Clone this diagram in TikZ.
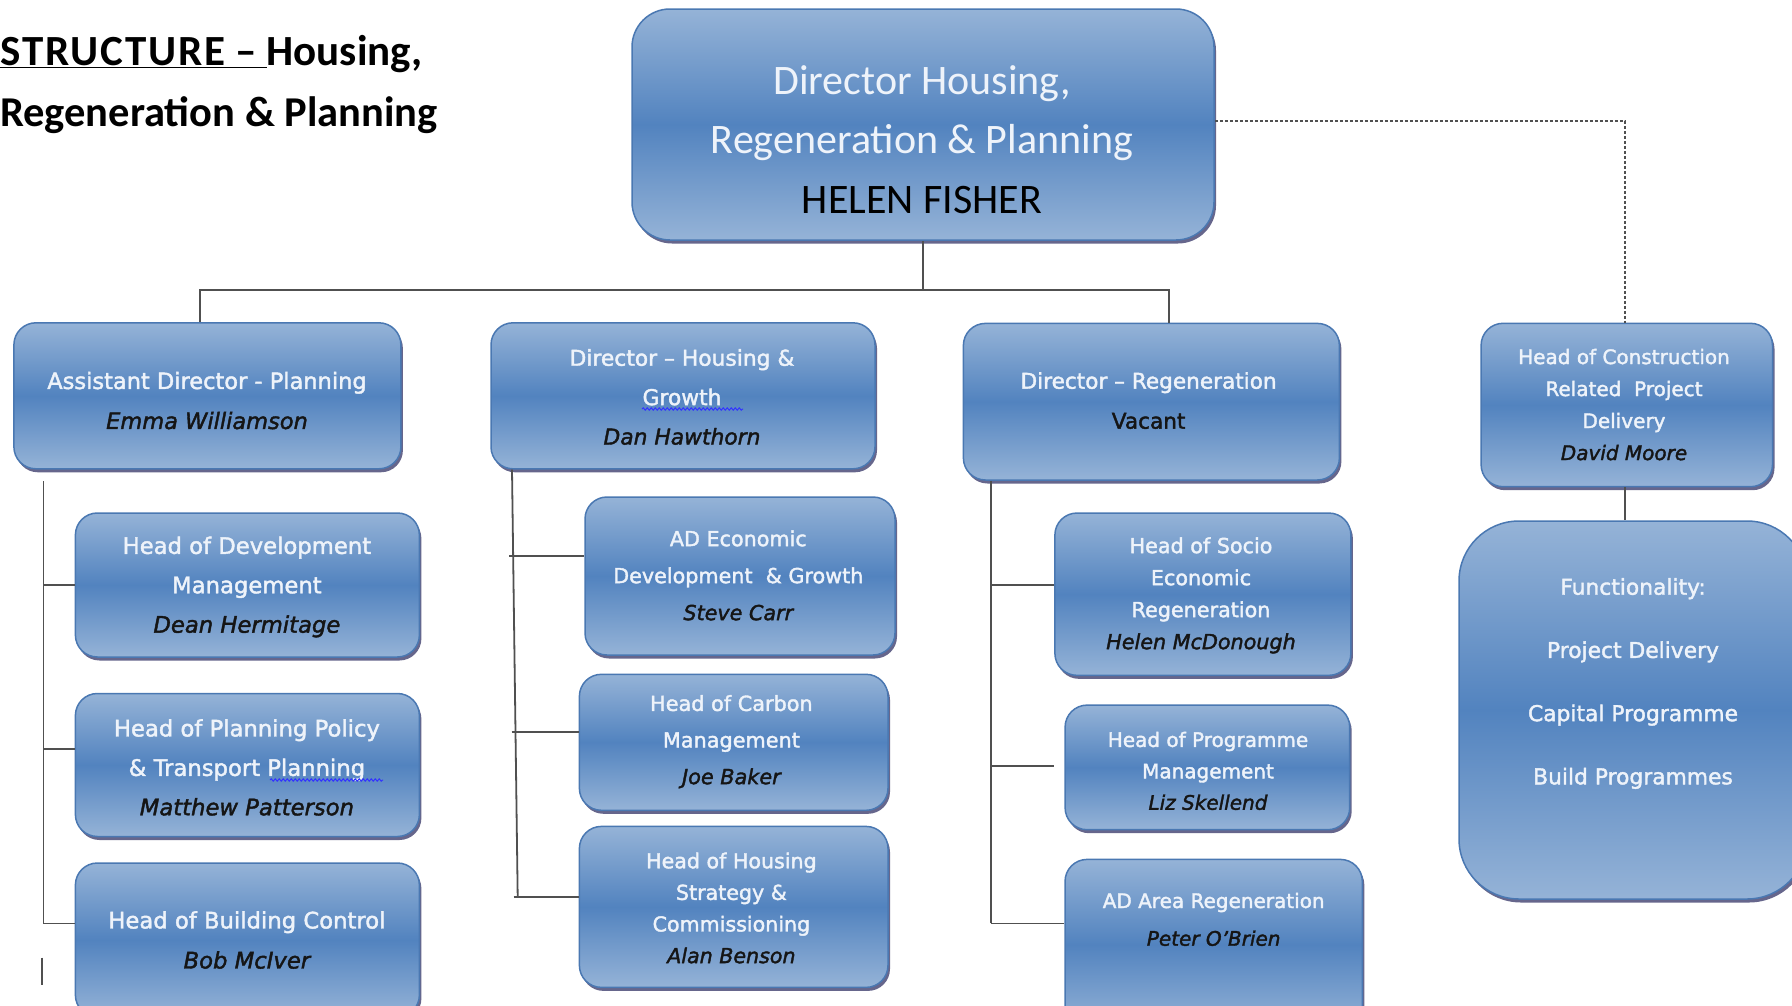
\documentclass[tikz,border=0pt]{standalone}
\usepackage{fontspec}
\setmainfont{DejaVu Sans}[FakeBold=1.8]
\newfontfamily\carlito{Carlito}
\usetikzlibrary{shadows,decorations.pathmorphing}
\definecolor{boxlight}{HTML}{95B3D7}
\definecolor{boxdark}{HTML}{5283BF}
\definecolor{boxedge}{HTML}{4A78B2}
\definecolor{boxtext}{HTML}{EEF3FA}
\definecolor{linegray}{HTML}{505050}
\definecolor{namecol}{HTML}{151515}
\newcommand\pname[1]{\textcolor{namecol}{\itshape #1}}
\tikzset{
  orgbox/.style={draw=boxedge, line width=1.5pt, rounded corners=22pt,
    top color=boxlight, bottom color=boxlight, middle color=boxdark,
    drop shadow={shadow xshift=2pt, shadow yshift=-3.5pt, opacity=0.6, fill=black!75!blue},
    inner sep=0pt},
  txt/.style={align=center, text=boxtext, inner sep=0pt},
  conn/.style={draw=linegray, line width=1.8pt},
  dashconn/.style={draw=linegray, line width=1.3pt, dash pattern=on 3pt off 2pt},
  spell/.style={draw=blue!80, line width=1pt, decorate, decoration={snake, amplitude=1.2pt, segment length=4pt}},
  titletxt/.style={anchor=base west, inner sep=0pt, font=\carlito\bfseries\fontsize{43}{60}\selectfont}
}
\begin{document}
\begin{tikzpicture}[x=1pt,y=-1pt]
\useasboundingbox (0,0) rectangle (1792,1005);
\fill[white] (0,0) rectangle (1792,1005);
\clip (0,0) rectangle (1792,1005);

% title
\node[titletxt] (title1) at (0,65) {\underline{{\addfontfeature{LetterSpace=4.5}STRUCTURE} – }Housing,};
\node[titletxt, font=\carlito\bfseries\fontsize{42.5}{60}\selectfont] (title2) at (0,126) {Regeneration \& Planning};

% top box
\node[orgbox, rounded corners=38pt, minimum width=582pt, minimum height=231pt] (T) at (923,124.5) {};
\node[txt, font=\carlito\fontsize{42}{59.4}\selectfont] (Tt) at (922,139.4)
  {Director Housing,\\Regeneration \& Planning\\\textcolor{black}{HELEN FISHER}};

% row 1
\node[orgbox, minimum width=387pt, minimum height=146pt] (B1) at (207.4,395.8) {};
\node[txt, font=\fontsize{22.5}{40}\selectfont] (B1t) at (207,400.6)
  {Assistant Director - Planning\\\pname{Emma Williamson}};

\node[orgbox, minimum width=384pt, minimum height=146pt] (B2) at (683,395.8) {};
\node[txt, font=\fontsize{21.8}{39.4}\selectfont] (B2t) at (682,397)
  {Director – Housing \&\\Growth\\\pname{Dan Hawthorn}};

\node[orgbox, minimum width=376pt, minimum height=156.6pt] (B3) at (1151.4,401.7) {};
\node[txt, font=\fontsize{21.6}{40}\selectfont] (B3t) at (1148.6,400.6)
  {Director – Regeneration\\\textcolor{namecol}{Vacant}};

\node[orgbox, minimum width=291.4pt, minimum height=163.4pt] (B4) at (1626.8,405) {};
\node[txt, font=\fontsize{20}{32}\selectfont] (B4t) at (1624,404.6)
  {Head of Construction\\Related~ Project\\Delivery\\\pname{David Moore}};

\node[orgbox, rounded corners=60pt, minimum width=348pt, minimum height=378pt] (B5) at (1633,710) {};
\node[txt, font=\fontsize{21.8}{63.2}\selectfont] (B5t) at (1633,683.5)
  {Functionality:\\Project Delivery\\Capital Programme\\Build Programmes};

% column 1
\node[orgbox, minimum width=344pt, minimum height=144pt] (C1a) at (247.4,585) {};
\node[txt, font=\fontsize{22.7}{39.4}\selectfont] (C1at) at (246.9,587)
  {Head of Development\\Management\\\pname{Dean Hermitage}};
\node[orgbox, minimum width=344pt, minimum height=143pt] (C1b) at (247.4,765) {};
\node[txt, font=\fontsize{22.7}{39.4}\selectfont] (C1bt) at (246.9,767.4)
  {Head of Planning Policy\\\& Transport Planning\\\pname{Matthew Patterson}};
\node[orgbox, minimum width=344pt, minimum height=154pt] (C1c) at (247.4,940) {};
\node[txt, font=\fontsize{22.7}{40}\selectfont] (C1ct) at (246.9,940)
  {Head of Building Control\\\pname{Bob McIver}};

% column 2
\node[orgbox, minimum width=310pt, minimum height=158pt] (C2a) at (740,576) {};
\node[txt, font=\fontsize{20.7}{37}\selectfont] (C2at) at (738.3,575.4)
  {AD Economic\\Development~ \& Growth\\\pname{Steve Carr}};
\node[orgbox, minimum width=308.6pt, minimum height=136pt] (C2b) at (733.7,742.3) {};
\node[txt, font=\fontsize{20.8}{36.6}\selectfont] (C2bt) at (731.4,741.7)
  {Head of Carbon\\Management\\\pname{Joe Baker}};
\node[orgbox, minimum width=308.6pt, minimum height=161pt] (C2c) at (733.7,906.9) {};
\node[txt, font=\fontsize{20.6}{31.6}\selectfont] (C2ct) at (731.4,908)
  {Head of Housing\\Strategy \&\\Commissioning\\\pname{Alan Benson}};

% column 3
\node[orgbox, minimum width=296pt, minimum height=162.3pt] (C3a) at (1202.9,594.2) {};
\node[txt, font=\fontsize{20.7}{32}\selectfont] (C3at) at (1201,595.4)
  {Head of Socio\\Economic\\Regeneration\\\pname{Helen McDonough}};
\node[orgbox, minimum width=284.6pt, minimum height=124.6pt] (C3b) at (1207.4,767.4) {};
\node[txt, font=\fontsize{20}{31.4}\selectfont] (C3bt) at (1208,770.9)
  {Head of Programme\\Management\\\pname{Liz Skellend}};
\node[orgbox, minimum width=297.3pt, minimum height=170.6pt] (C3c) at (1213.7,944.7) {};
\node[txt, font=\fontsize{20}{37.7}\selectfont] (C3ct) at (1213.7,919.4)
  {AD Area Regeneration\\\pname{Peter O’Brien}};

% spell-check underlines
\draw[spell] (642,409) -- (743,409);
\draw[spell] (270,780) -- (383,780);

% top connectors
\coordinate (bus) at (923,290.3);
\draw[conn] (T.south) -- (bus);
\draw[conn] (B1.north -| 200,0) |- (bus) -| (B3.north -| 1169,0);
\draw[dashconn] (T.east |- 0,121) -| (B4.north -| 1625,0);
\draw[conn] (B4.south -| 1625,0) -- (B5.north -| 1625,0);

% column 1 connectors
\coordinate (v1top) at (43.4,481);
\coordinate (v1bot) at (43.4,923.4);
\draw[conn] (v1top) -- (v1bot);
\draw[conn] (v1top |- 0,585) -- (C1a.west |- 0,585);
\draw[conn] (v1top |- 0,748.6) -- (C1b.west |- 0,748.6);
\draw[conn] (v1bot) -- (C1c.west |- v1bot);
\coordinate (tk1) at (42.3,957.7);
\coordinate (tk2) at (42.3,985);
\draw[conn] (tk1) -- (tk2);

% column 2 connectors
\coordinate (v2top) at (B2.south -| 512,0);
\coordinate (v2bot) at (517.7,897);
\draw[conn] (v2top) -- (v2bot);
\path (v2top) -- (v2bot) coordinate[pos=0.2026] (v2a) coordinate[pos=0.6134] (v2b);
\draw[conn] ([xshift=-4pt]v2a) -- (C2a.west |- v2a);
\draw[conn] ([xshift=-4pt]v2b) -- (C2b.west |- v2b);
\draw[conn] ([xshift=-4pt]v2bot) -- (C2c.west |- v2bot);

% column 3 connectors
\coordinate (v3top) at (B3.south -| 990.9,0);
\coordinate (v3bot) at (990.9,923.4);
\coordinate (c3bgap) at ([xshift=-10pt]C3b.west);
\draw[conn] (v3top) -- (v3bot);
\draw[conn] (v3top |- 0,585.1) -- (C3a.west |- 0,585.1);
\draw[conn] (v3top |- 0,765.7) -- (c3bgap |- 0,765.7);
\draw[conn] (v3bot) -- (C3c.west |- v3bot);
\end{tikzpicture}
\end{document}
